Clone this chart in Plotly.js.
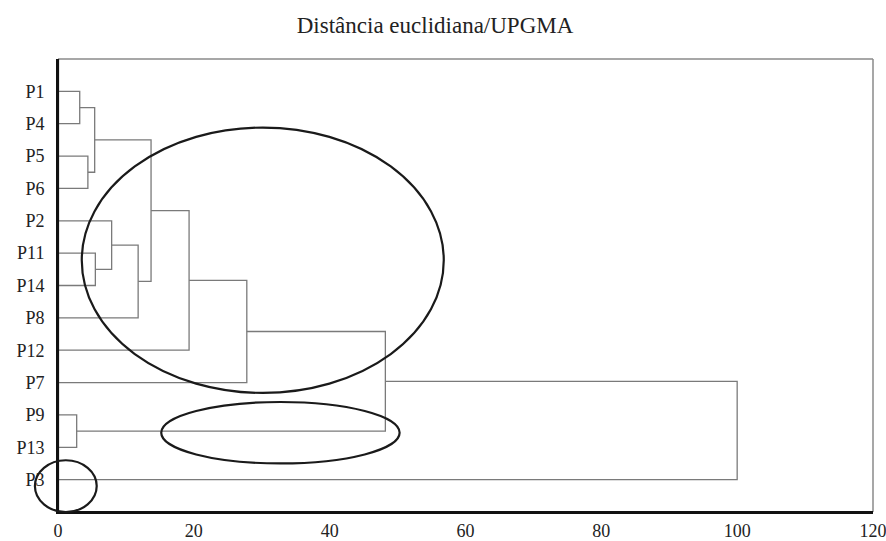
<!DOCTYPE html>
<html>
<head>
<meta charset="utf-8">
<script src="https://cdn.plot.ly/plotly-3.0.1.min.js"></script>
<style>html,body{margin:0;padding:0;background:#fff;}#chart{width:886px;height:541px;}</style>
</head>
<body>
<div id="chart"></div>
<script>
// Leaves, top to bottom
const leaves = ['P1','P4','P5','P6','P2','P11','P14','P8','P12','P7','P9','P13','P3'];
// Linkage: cluster ids 0..12 are leaves, new clusters get ids 13, 14, ...
const mergeLeft   = [0, 2, 13, 5, 4, 17, 15, 19, 20, 10, 21, 23];
const mergeRight  = [1, 3, 14, 6, 16, 7, 18, 8, 9, 11, 22, 12];
const mergeHeight = [3.2, 4.4, 5.4, 5.5, 7.9, 11.8, 13.7, 19.3, 27.8, 2.75, 48.2, 100];
const xTicks = [0, 20, 40, 60, 80, 100, 120];
const chartTitle = 'Distância euclidiana/UPGMA';
// Ellipses marking groups: [x0, x1] in distance units, [y0, y1] in leaf positions
const ellX0 = [3.5, 15.2, -3.4];
const ellX1 = [56.8, 50.3, 5.7];
const ellY0 = [2.12, 10.6, 12.4];
const ellY1 = [10.32, 12.5, 14.0];

const X_MAX = 120, Y_MAX = leaves.length + 1;
const pos = leaves.map((_, i) => i + 1);
const hgt = leaves.map(() => 0);
const traces = [];
for (let k = 0; k < mergeHeight.length; k++) {
  const a = mergeLeft[k], b = mergeRight[k], h = mergeHeight[k];
  traces.push({
    type: 'scatter', mode: 'lines', hoverinfo: 'skip', showlegend: false,
    x: [hgt[a], h, h, hgt[b]],
    y: [pos[a], pos[a], pos[b], pos[b]],
    line: {color: '#7a7a7a', width: 1.3}
  });
  pos.push((pos[a] + pos[b]) / 2);
  hgt.push(h);
}

// frame: gray top/right, black left/bottom; then group ellipses
const shapes = [
  {type: 'line', xref: 'paper', yref: 'paper', x0: 0, x1: 1, y0: 1, y1: 1, layer: 'above', line: {color: '#8a8a8a', width: 1.5}},
  {type: 'line', xref: 'paper', yref: 'paper', x0: 1, x1: 1, y0: 0, y1: 1, layer: 'above', line: {color: '#8a8a8a', width: 1.5}},
  {type: 'line', xref: 'paper', yref: 'paper', x0: 0, x1: 1, y0: 0, y1: 0, layer: 'above', line: {color: '#111', width: 2.2}},
  {type: 'line', xref: 'paper', yref: 'paper', x0: 0, x1: 0, y0: 0, y1: 1, layer: 'above', line: {color: '#111', width: 2.2}}
].concat(ellX0.map((_, i) => ({
  type: 'circle', xref: 'paper', yref: 'paper', layer: 'above',
  x0: ellX0[i] / X_MAX, x1: ellX1[i] / X_MAX,
  y0: 1 - ellY1[i] / Y_MAX, y1: 1 - ellY0[i] / Y_MAX,
  line: {color: '#1a1a1a', width: 2.2}
})));

const font = {family: '"Liberation Serif", "Times New Roman", serif', size: 18, color: '#222'};
const layout = {
  width: 886, height: 541,
  margin: {l: 58, r: 13, t: 59, b: 29, pad: 0},
  paper_bgcolor: '#fff', plot_bgcolor: '#fff',
  font: font,
  title: {text: chartTitle, x: 0.491, xref: 'container', xanchor: 'center',
          y: 0.953, yref: 'container', yanchor: 'middle',
          font: {family: font.family, size: 23, color: '#222'}},
  showlegend: false,
  xaxis: {range: [0, X_MAX], tickvals: xTicks, ticktext: xTicks.map(String),
          showgrid: false, zeroline: false, showline: true, linecolor: '#111', linewidth: 2,
          ticks: 'outside', ticklen: 1, tickcolor: 'rgba(0,0,0,0)', ticklabeloverflow: 'allow', fixedrange: true},
  yaxis: {range: [Y_MAX, 0], tickvals: leaves.map((_, i) => i + 1), ticktext: leaves,
          showgrid: false, zeroline: false, showline: true, linecolor: '#111', linewidth: 2,
          ticks: '', ticklabelstandoff: 8, fixedrange: true},
  shapes: shapes
};
Plotly.newPlot('chart', traces, layout, {displayModeBar: false, staticPlot: true});
</script>
</body>
</html>
